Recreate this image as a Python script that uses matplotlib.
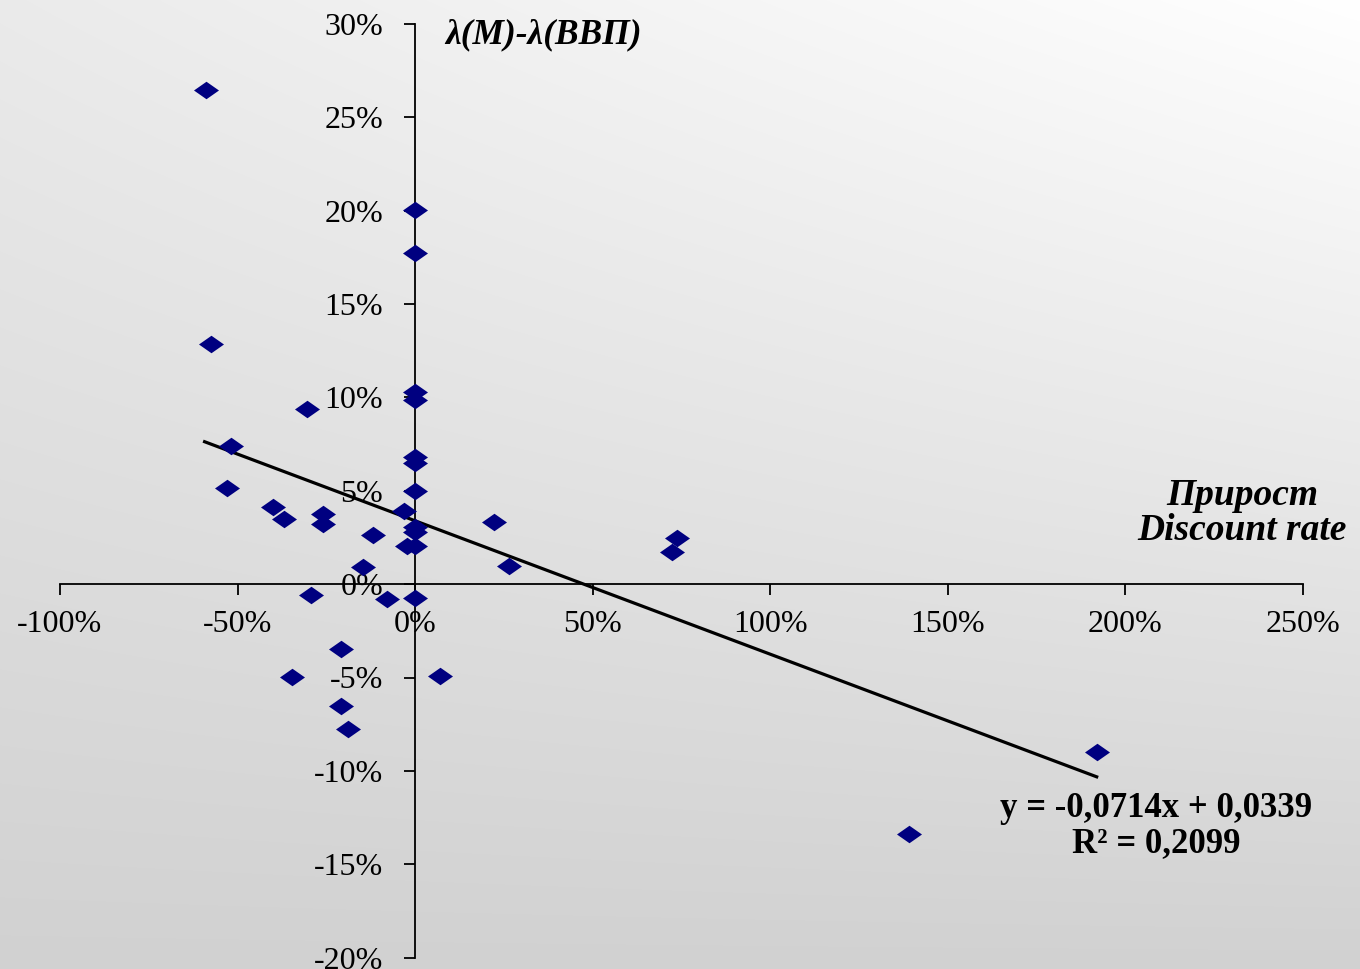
import numpy as np
import matplotlib
matplotlib.use("Agg")
import matplotlib.pyplot as plt
from matplotlib.path import Path

plt.rcParams['axes.unicode_minus'] = False
plt.rcParams['font.family'] = ['Liberation Serif', 'DejaVu Serif']

# ---- data (fractions) ----
x_vals = [-0.589, -0.574, -0.305, -0.519, -0.529, -0.399, -0.368, -0.260, -0.260,
          -0.119, -0.146, -0.031, -0.022,
          0.0, 0.0, 0.0, 0.0, 0.0, 0.0, 0.0, 0.0, 0.0, 0.0,
          -0.292, -0.078, 0.0, 0.223, 0.265, 0.738, 0.724,
          -0.208, -0.346, 0.071, -0.208, -0.189, 1.920, 1.392]
y_vals = [0.2645, 0.1285, 0.0936, 0.0739, 0.0516, 0.0414, 0.0347, 0.0375, 0.0322,
          0.0263, 0.0093, 0.0391, 0.0206,
          0.2003, 0.1772, 0.1030, 0.0986, 0.0679, 0.0647, 0.0498, 0.0307, 0.0281, 0.0206,
          -0.0058, -0.0081, -0.0076, 0.0334, 0.0099, 0.0247, 0.0172,
          -0.0347, -0.0498, -0.0490, -0.0653, -0.0776, -0.0900, -0.1336]
trend_slope = -0.0714
trend_intercept = 0.0339
r_squared = "0,2099"

x_ticks = [-1.0, -0.5, 0.0, 0.5, 1.0, 1.5, 2.0, 2.5]
x_tick_labels = ["-100%", "-50%", "0%", "50%", "100%", "150%", "200%", "250%"]
y_ticks = [-0.20, -0.15, -0.10, -0.05, 0.0, 0.05, 0.10, 0.15, 0.20, 0.25, 0.30]
y_tick_labels = ["-20%", "-15%", "-10%", "-5%", "0%", "5%", "10%", "15%", "20%", "25%", "30%"]

y_title = "λ(M)-λ(ВВП)"
x_title = "Прирост\nDiscount rate"
eq_text = "y = -0,0714x + 0,0339\nR² = " + r_squared

# ---- figure ----
fig = plt.figure(figsize=(13.6, 9.69), dpi=100)

# background gradient (decoration)
bg = fig.add_axes([0, 0, 1, 1], zorder=-10)
H, W = 969, 1360
yy, xx = np.mgrid[0:H, 0:W]
yf = yy / H
xr = (W - xx) / W
val = 1.0 - 0.18 * yf - 0.08 * xr * (1 - yf)
val = np.clip(val, 0, 1)
bg.imshow(np.dstack([val, val, val]), aspect='auto', extent=[0, 1, 0, 1], origin='upper')
bg.set_axis_off()

ax = fig.add_axes([60 / 1360, 1 - 957.7 / 969, 1242.7 / 1360, (957.7 - 23.7) / 969])
ax.set_facecolor('none')
ax.set_xlim(-1.0, 2.5)
ax.set_ylim(-0.20, 0.30)

for s in ['top', 'right']:
    ax.spines[s].set_visible(False)
ax.spines['left'].set_position(('data', 0))
ax.spines['bottom'].set_position(('data', 0))
for s in ['left', 'bottom']:
    ax.spines[s].set_linewidth(1.3)
    ax.spines[s].set_color('black')

ax.set_xticks(x_ticks)
ax.set_xticklabels(x_tick_labels)
ax.set_yticks(y_ticks)
ax.set_yticklabels(y_tick_labels)
ax.tick_params(axis='both', direction='out', length=8, width=1.3, labelsize=23, colors='black')
ax.tick_params(axis='x', pad=11)
ax.tick_params(axis='y', pad=15)

diamond = Path([(-1, 0), (0, 0.7), (1, 0), (0, -0.7), (-1, 0)],
               [Path.MOVETO, Path.LINETO, Path.LINETO, Path.LINETO, Path.CLOSEPOLY])

xa = np.array(x_vals)
line_x = np.array([xa.min() - 0.008, xa.max() + 0.004])
ax.plot(line_x, trend_slope * line_x + trend_intercept, color='black', lw=2.3, zorder=3,
        solid_capstyle='butt')
ax.plot(x_vals, y_vals, linestyle='none', marker=diamond, markersize=18,
        color='#000080', markeredgewidth=0, zorder=4, clip_on=False)

ax.text(0.084, 0.303, y_title, fontsize=25.5, fontweight='bold', fontstyle='italic',
        ha='left', va='top')
ax.text(2.33, 0.038, x_title, fontsize=27, fontweight='bold', fontstyle='italic',
        ha='center', va='center', multialignment='center', linespacing=1.0)
ax.text(2.087, -0.1295, eq_text, fontsize=25, fontweight='bold',
        ha='center', va='center', multialignment='center', linespacing=1.05)

fig.savefig("out.png", dpi=100)
